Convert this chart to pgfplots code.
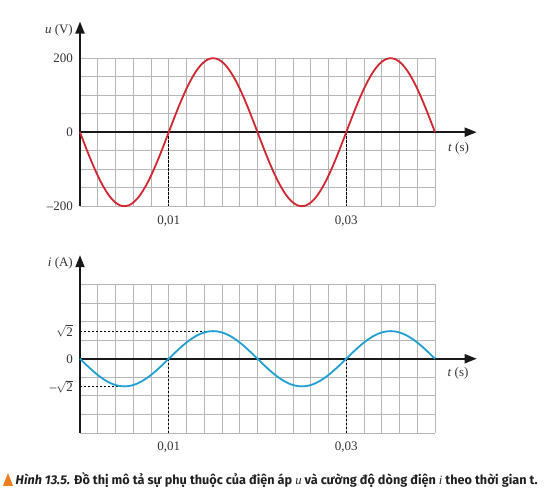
\documentclass[border=0pt]{standalone}
\usepackage{graphicx}
\usepackage{fontspec}
\setmainfont{Liberation Serif}
\newfontfamily\capfont{Fira Sans}
\usepackage{pgfplots}
\pgfplotsset{compat=1.18}
\usepackage{pgfplotstable}
\usetikzlibrary{arrows.meta}
\definecolor{ured}{RGB}{210,38,48}
\definecolor{iblue}{RGB}{32,160,210}
\definecolor{gridgray}{RGB}{182,182,182}
\definecolor{triorange}{RGB}{238,125,30}
\definecolor{captext}{RGB}{35,31,32}

\pgfplotstableread{
t u i
0 0 0
0.0005 -31.29 -0.2212
0.0010 -61.80 -0.4370
0.0015 -90.80 -0.6420
0.0020 -117.56 -0.8313
0.0025 -141.42 -1.0000
0.0030 -161.80 -1.1441
0.0035 -178.20 -1.2601
0.0040 -190.21 -1.3450
0.0045 -197.54 -1.3968
0.0050 -200.00 -1.4142
0.0055 -197.54 -1.3968
0.0060 -190.21 -1.3450
0.0065 -178.20 -1.2601
0.0070 -161.80 -1.1441
0.0075 -141.42 -1.0000
0.0080 -117.56 -0.8313
0.0085 -90.80 -0.6420
0.0090 -61.80 -0.4370
0.0095 -31.29 -0.2212
0.0100 0 0
0.0105 31.29 0.2212
0.0110 61.80 0.4370
0.0115 90.80 0.6420
0.0120 117.56 0.8313
0.0125 141.42 1.0000
0.0130 161.80 1.1441
0.0135 178.20 1.2601
0.0140 190.21 1.3450
0.0145 197.54 1.3968
0.0150 200.00 1.4142
0.0155 197.54 1.3968
0.0160 190.21 1.3450
0.0165 178.20 1.2601
0.0170 161.80 1.1441
0.0175 141.42 1.0000
0.0180 117.56 0.8313
0.0185 90.80 0.6420
0.0190 61.80 0.4370
0.0195 31.29 0.2212
0.0200 0 0
0.0205 -31.29 -0.2212
0.0210 -61.80 -0.4370
0.0215 -90.80 -0.6420
0.0220 -117.56 -0.8313
0.0225 -141.42 -1.0000
0.0230 -161.80 -1.1441
0.0235 -178.20 -1.2601
0.0240 -190.21 -1.3450
0.0245 -197.54 -1.3968
0.0250 -200.00 -1.4142
0.0255 -197.54 -1.3968
0.0260 -190.21 -1.3450
0.0265 -178.20 -1.2601
0.0270 -161.80 -1.1441
0.0275 -141.42 -1.0000
0.0280 -117.56 -0.8313
0.0285 -90.80 -0.6420
0.0290 -61.80 -0.4370
0.0295 -31.29 -0.2212
0.0300 0 0
0.0305 31.29 0.2212
0.0310 61.80 0.4370
0.0315 90.80 0.6420
0.0320 117.56 0.8313
0.0325 141.42 1.0000
0.0330 161.80 1.1441
0.0335 178.20 1.2601
0.0340 190.21 1.3450
0.0345 197.54 1.3968
0.0350 200.00 1.4142
0.0355 197.54 1.3968
0.0360 190.21 1.3450
0.0365 178.20 1.2601
0.0370 161.80 1.1441
0.0375 141.42 1.0000
0.0380 117.56 0.8313
0.0385 90.80 0.6420
0.0390 61.80 0.4370
0.0395 31.29 0.2212
0.0400 0 0
}\wavedata

\pgfplotsset{
  wavebase/.style={
    scale only axis, width=355pt,
    xmin=0, xmax=0.04,
    clip=false,
    axis line style={draw=none},
    scaled x ticks=false,
    xtick={0.01,0.03},
    xticklabels={{0,01}, {0,03}},
    minor xtick={0,0.002,0.004,0.006,0.008,0.01,0.012,0.014,0.016,0.018,0.02,0.022,0.024,0.026,0.028,0.03,0.032,0.034,0.036,0.038,0.04},
    grid=both,
    major grid style={draw=none},
    minor grid style={gridgray, line width=0.9pt},
    major tick length=0pt, minor tick length=0pt,
    tick style={draw=none},
    ticklabel style={font=\fontsize{13}{15}\selectfont, text=black!80},
    xticklabel style={inner sep=0pt, yshift=-9pt},
    yticklabel style={inner sep=0pt, xshift=-7pt},
  },
  dashline/.style={black, line width=0.8pt, dash pattern=on 2.4pt off 1.6pt},
}

\begin{document}
\begin{tikzpicture}
\useasboundingbox (0,0) rectangle (547pt,494pt);

% ---- top: voltage
\begin{axis}[wavebase,
  at={(80pt,287.8pt)}, anchor=south west, height=148pt,
  ymin=-200, ymax=200,
  ytick={-200,0,200},
  yticklabels={–200, 0, 200},
  minor ytick={-200,-150,-100,-50,0,50,100,150,200},
]
\addplot[dashline] coordinates {(0.01,0) (0.01,-200)};
\addplot[dashline] coordinates {(0.03,0) (0.03,-200)};
\draw[black!90, line width=1.9pt, -{Triangle[length=12pt,width=9pt]}] (axis cs:0,0) -- (axis cs:0.0447,0);
\draw[black!90, line width=1.9pt, -{Triangle[length=12pt,width=9pt]}] (axis cs:0,-200) -- (axis cs:0,299);
\addplot[ured, line width=1.8pt, smooth] table[x=t, y=u] {\wavedata};
\end{axis}

% ---- bottom: current
\begin{axis}[wavebase,
  at={(80pt,61pt)}, anchor=south west, height=148.5pt,
  ymin=-3.8, ymax=3.8,
  ytick={-1.4142,0,1.4142},
  yticklabels={–$\sqrt{\hbox{2}}$, 0, $\sqrt{\hbox{2}}$},
  minor ytick={-3.8,-2.85,-1.9,-0.95,0,0.95,1.9,2.85,3.8},
]
\addplot[dashline] coordinates {(0.01,0) (0.01,-3.8)};
\addplot[dashline] coordinates {(0.03,0) (0.03,-3.8)};
\addplot[dashline] coordinates {(0,1.4142) (0.015,1.4142)};
\addplot[dashline] coordinates {(0,-1.4142) (0.005,-1.4142)};
\draw[black!90, line width=1.9pt, -{Triangle[length=12pt,width=9pt]}] (axis cs:0,0) -- (axis cs:0.0447,0);
\draw[black!90, line width=1.9pt, -{Triangle[length=12pt,width=9pt]}] (axis cs:0,-3.8) -- (axis cs:0,5.3);
\addplot[iblue, line width=1.8pt, smooth] table[x=t, y=i] {\wavedata};
\end{axis}

% axis labels
\node[anchor=east, inner sep=0pt, font=\fontsize{13}{15}\selectfont, text=black!80] at (73pt,463.3pt) {\textit{u} (V)};
\node[anchor=east, inner sep=0pt, font=\fontsize{13}{15}\selectfont, text=black!80] at (73pt,230.7pt) {\textit{i} (A)};
\node[inner sep=0pt, font=\fontsize{13}{15}\selectfont, text=black!80] at (458.5pt,346pt) {\textit{t} (s)};
\node[inner sep=0pt, font=\fontsize{13}{15}\selectfont, text=black!80] at (458pt,120.7pt) {\textit{t} (s)};

% caption
\fill[triorange] (3pt,8pt) -- (13pt,8pt) -- (8pt,21pt) -- cycle;
\node[anchor=west, inner sep=0pt, text=captext] at (15.5pt,14pt) {\resizebox{522pt}{!}{\capfont\bfseries\fontsize{11}{13}\selectfont
\textit{Hình 13.5.} Đồ thị mô tả sự phụ thuộc của điện áp {\rmfamily\mdseries\itshape u} và cường độ dòng điện {\rmfamily\mdseries\itshape i} theo thời gian t.}};
\end{tikzpicture}
\end{document}
